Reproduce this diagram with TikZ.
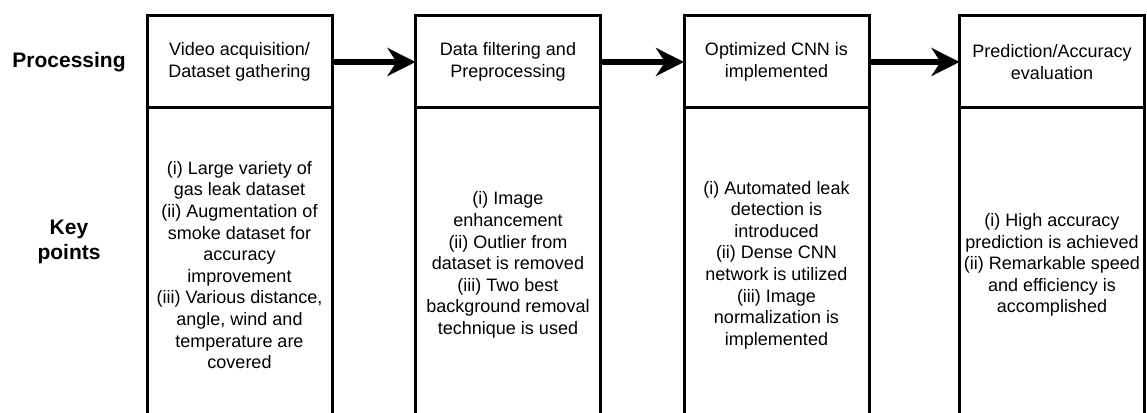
\documentclass[tikz,border=0pt]{standalone}
\usepackage{fontspec}
\setmainfont{Liberation Sans}
\usetikzlibrary{positioning,arrows.meta}

\tikzset{
  stage/.style={draw, line width=3pt, outer sep=0pt, minimum width=185pt, minimum height=92pt,
    align=center, font=\fontsize{18}{21.6}\selectfont},
  keys/.style={stage, minimum height=314pt},
  rowlabel/.style={align=center, font=\fontsize{21}{25}\selectfont\bfseries},
  flow/.style={-{Stealth[length=28pt,width=28pt,inset=9pt]}, line width=6pt}
}

\begin{document}
\begin{tikzpicture}[x=1pt,y=1pt]
\useasboundingbox (0,0) rectangle (1147,412);
\clip (0,0) rectangle (1147,412);

\node[rowlabel] (proc) at (69,350) {Processing};
\node[rowlabel] (kp) at (69,170) {Key\\points};

\node[stage] (s1) at (239.5,350) {Video acquisition/\\Dataset gathering};
\node[stage] (s2) at (508,350) {Data filtering and\\Preprocessing};
\node[stage] (s3) at (776.5,350) {Optimized CNN is\\implemented};
\node[stage] (s4) at (1052,350) {Prediction/Accuracy\\evaluation};

\node[keys, below=0pt of s1] (k1) {(i) Large variety of\\gas leak dataset\\(ii) Augmentation of\\smoke dataset for\\accuracy\\improvement\\(iii) Various distance,\\angle, wind and\\temperature are\\covered};
\node[keys, below=0pt of s2] (k2) {(i) Image\\enhancement\\(ii) Outlier from\\dataset is removed\\(iii) Two best\\background removal\\technique is used};
\node[keys, below=0pt of s3] (k3) {(i) Automated leak\\detection is\\introduced\\(ii) Dense CNN\\network is utilized\\(iii) Image\\normalization is\\implemented};
\node[keys, below=0pt of s4] (k4) {(i) High accuracy\\prediction is achieved\\(ii) Remarkable speed\\and efficiency is\\accomplished};

\draw[flow] (s1) -- (s2);
\draw[flow] (s2) -- (s3);
\draw[flow] (s3) -- (s4);
\end{tikzpicture}
\end{document}
